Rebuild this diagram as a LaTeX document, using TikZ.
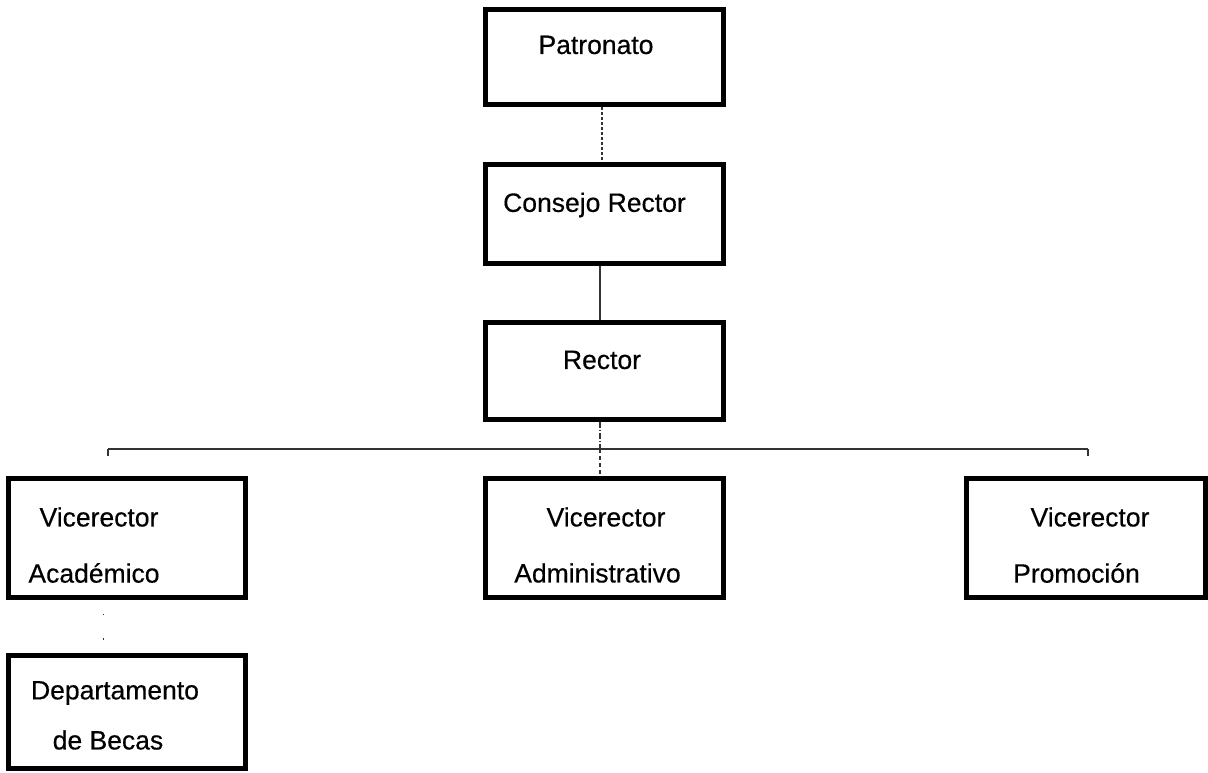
\documentclass[tikz,border=0pt]{standalone}
\usepackage{fontspec}
\setmainfont{Liberation Sans}[FakeBold=0.4]
\begin{document}
\begin{tikzpicture}[x=1pt,y=-1pt,
  orgbox/.style={draw=black,line width=5pt,rectangle,inner sep=0pt,fill=white},
  lbl/.style={font=\fontsize{26.5}{30}\selectfont,inner sep=0pt,anchor=center},
  link/.style={draw=black!80,line width=1.1pt}]
\useasboundingbox[fill=white] (0,0) rectangle (1208,773);

% boxes
\node[orgbox,minimum width=238pt,minimum height=95pt]  (pat) at (604,57.5) {};
\node[orgbox,minimum width=238pt,minimum height=98pt]  (con) at (604,214) {};
\node[orgbox,minimum width=238pt,minimum height=97pt]  (rec) at (604,370.5) {};
\node[orgbox,minimum width=237pt,minimum height=119pt] (va)  at (126.5,537.5) {};
\node[orgbox,minimum width=238pt,minimum height=119pt] (vad) at (604,537.5) {};
\node[orgbox,minimum width=239pt,minimum height=119pt] (vp)  at (1085.5,537.5) {};
\node[orgbox,minimum width=237pt,minimum height=113pt] (bec) at (126.5,711.5) {};

% labels
\node[lbl] (tpat) at (596,45) {Patronato};
\node[lbl] (tcon) at (594.5,205) {Consejo Rector};
\node[lbl] (trec) at (602,360) {Rector};
\node[lbl] (tva1) at (99,517) {Vicerector};
\node[lbl] (tva2) at (94,573) {Académico};
\node[lbl] (tvd1) at (606,517) {Vicerector};
\node[lbl] (tvd2) at (597.5,573) {Administrativo};
\node[lbl] (tvp1) at (1090,517) {Vicerector};
\node[lbl] (tvp2) at (1076.5,573) {Promoción};
\node[lbl] (tbe1) at (115,693) {Departamento};
\node[lbl] (tbe2) at (108,740) {de Becas};

% bus line under the rector
\coordinate (busL) at (108,449);
\coordinate (busM) at (600,449);
\coordinate (busR) at (1088,449);

% connectors
\draw[link,dash pattern=on 3pt off 2pt] ([xshift=-2pt]pat.south) -- ([xshift=-2pt]con.north);
\draw[link] ([xshift=-4pt]con.south) -- ([xshift=-4pt]rec.north);
\draw[link,dash pattern=on 6pt off 2pt on 1pt off 2pt] ([xshift=-4pt]rec.south) -- (busM);
\draw[link,line width=1.3pt] (busL) -- (busR);
\draw[link,dash pattern=on 4pt off 3pt] (busM) -- ([xshift=-4pt]vad.north);
\draw[link] (busL) -- ++(0,7);
\draw[link] (busR) -- ++(0,7);
\draw[link,dash pattern=on 1.5pt off 23pt] ([xshift=-23pt]va.south) ++(0,14) -- ([xshift=-23pt]bec.north);
\end{tikzpicture}
\end{document}
